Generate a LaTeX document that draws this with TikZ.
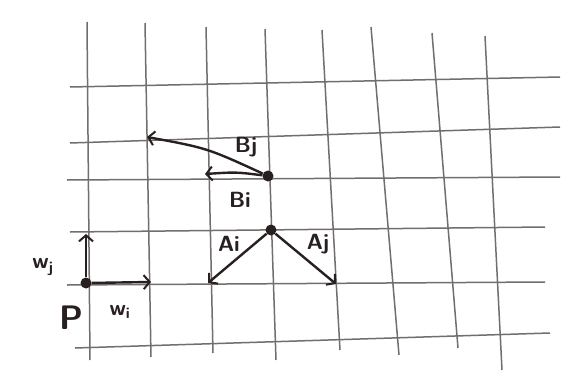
\documentclass[tikz,border=0pt]{standalone}
\usepackage{fontspec}
\usepackage{tikz}
\usepackage{xcolor}
\usetikzlibrary{arrows.meta}
\definecolor{pencil}{RGB}{115,110,110}
\definecolor{ink}{RGB}{40,32,32}

\begin{document}
\begin{tikzpicture}[x=1pt,y=-1pt,
    gridline/.style={pencil, line width=1.5pt},
    vec/.style={ink, line width=2.4pt, -{Straight Barb[length=6pt,width=14pt,line width=2pt]}},
    dot/.style={circle, fill=ink, inner sep=0pt, minimum size=11pt},
    lab/.style={text=ink, font=\sffamily\bfseries\fontsize{22}{26}\selectfont}]
	% Paper
	\useasboundingbox[fill=white] (0,0) rectangle (576,383);
	
	% Horizontal lines
	\foreach \xa/\ya/\xb/\yb in {70/87/560/77, 70/143/560/127, 67/180/560/177,
	    70/232/545/227, 67/285/545/282, 75/348/550/333}
	  \draw[gridline] (\xa,\ya) -- (\xb,\yb);
	
	% Vertical lines
	\foreach \xa/\ya/\xb/\yb in {87/22/90/360, 145/23/151/357, 206/27/213/353,
	    265/29/276/360, 322/30/340/350, 371/27/399/355, 432/33/458/348, 485/36/502/370}
	  \draw[gridline] (\xa,\ya) -- (\xb,\yb);
	
	% Point P and its axes
	\node[dot] (P) at (86,283) {};
	\coordinate (wjtip) at (86,234);
	\coordinate (witip) at (151,282);
	\draw[vec] (P) -- (wjtip);
	\draw[vec] (P) -- (witip);
	\node[lab] (wjlab) at (43,267) {w\textsubscript{j}};
	\node[lab] (wilab) at (120,312) {w\textsubscript{i}};
	\node[text=ink, font=\sffamily\bfseries\fontsize{34}{36}\selectfont] (plab) at (71,318) {P};
	
	% A vectors
	\node[dot] (A) at (271,230) {};
	\coordinate (aitip) at (208,283);
	\coordinate (ajtip) at (336,284);
	\draw[vec] (A) -- (aitip);
	\draw[vec] (A) -- (ajtip);
	\node[lab] (ailab) at (229,244) {Ai};
	\node[lab] (ajlab) at (318,244) {Aj};
	
	% B vectors
	\node[dot] (B) at (268,176) {};
	\coordinate (bitip) at (205,174);
	\coordinate (bjtip) at (147,137);
	\draw[vec] (B) .. controls (236,172) .. (bitip);
	\draw[vec] (B) .. controls (207,148) .. (bjtip);
	\node[lab] (bjlab) at (246,147) {Bj};
	\node[lab] (bilab) at (240,200) {Bi};
\end{tikzpicture}
\end{document}
